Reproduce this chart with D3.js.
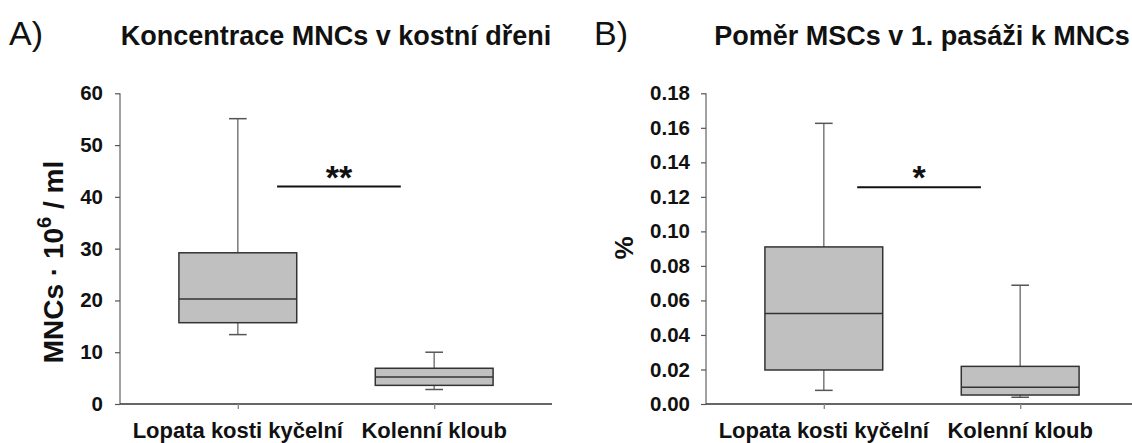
<!DOCTYPE html>
<html>
<head>
<meta charset="utf-8">
<script src="https://cdn.jsdelivr.net/npm/d3@7"></script>
<style>
  html, body { margin: 0; padding: 0; background: #fff; }
  svg { display: block; font-family: "Liberation Sans", Arial, sans-serif; }
</style>
</head>
<body>
<svg id="chart" width="1132" height="443"></svg>
<script>
// Categories shared by both panels
const categories = ["Lopata kosti kyčelní", "Kolenní kloub"];

// Panel A: MNC concentration (10^6 / ml) — whisker low, Q1, median, Q3, whisker high
const mncLow    = [13.4, 2.8];
const mncQ1     = [15.7, 3.6];
const mncMedian = [20.3, 5.2];
const mncQ3     = [29.2, 6.9];
const mncHigh   = [55.1, 10.0];
const mncTicks  = [0, 10, 20, 30, 40, 50, 60];

// Panel B: MSC / MNC ratio in passage 1 (%)
const mscLow    = [0.0079, 0.0039];
const mscQ1     = [0.0197, 0.0052];
const mscMedian = [0.0525, 0.0097];
const mscQ3     = [0.0910, 0.0218];
const mscHigh   = [0.1626, 0.0688];
const mscTicks  = [0, 0.02, 0.04, 0.06, 0.08, 0.10, 0.12, 0.14, 0.16, 0.18];

// Significance markers between the two groups
const mncSig = { label: "**", level: 42.0, from: 1.2, to: 1.83 };
const mscSig = { label: "*", level: 0.1255, from: 1.17, to: 1.80 };

const svg = d3.select("#chart");

const FILL = "#c0c0c0";
const BOX_STROKE = "#333";
const WHISKER = "#7a7a7a";

function panel(opts) {
  const g = svg.append("g");
  const x = d3.scaleLinear().domain([0.4, 2.6]).range([opts.left, opts.left + 432]);
  const y = d3.scaleLinear().domain(opts.domain).range([404, 93.3]);

  // panel letter and title
  g.append("text")
    .attr("x", opts.letterX).attr("y", 45)
    .attr("font-size", 34).attr("fill", "#111")
    .text(opts.letter);
  g.append("text")
    .attr("x", opts.left + 216).attr("y", 45)
    .attr("text-anchor", "middle")
    .attr("font-size", 27).attr("font-weight", "bold").attr("fill", "#111")
    .text(opts.title);

  // y axis
  const yAxis = d3.axisLeft(y).tickValues(opts.ticks).tickSize(5).tickPadding(opts.pad)
    .tickFormat(opts.format);
  const ya = g.append("g").attr("transform", `translate(${opts.left},0)`).call(yAxis);
  ya.select(".domain").attr("stroke", "#8a8a8a").attr("stroke-width", 1.6)
    .attr("d", `M0,${y.range()[0]}V${y.range()[1]}`);
  ya.selectAll(".tick line").attr("stroke", "#555").attr("stroke-width", 1.2);
  ya.selectAll(".tick text")
    .attr("font-size", 20.5).attr("font-weight", "bold").attr("fill", "#111")
    .attr("font-family", "Liberation Sans, Arial, sans-serif");

  // x axis
  const xAxis = d3.axisBottom(x).tickValues([1, 2]).tickSize(5).tickFormat("");
  const xa = g.append("g").attr("transform", "translate(0,404)").call(xAxis);
  xa.select(".domain").attr("stroke", "#333").attr("stroke-width", 1.6)
    .attr("d", `M${x.range()[0]},0H${x.range()[1]}`);
  xa.selectAll(".tick line").attr("stroke", "#8a8a8a").attr("stroke-width", 1.4);

  // category labels
  g.selectAll(".cat").data(categories).join("text")
    .attr("x", (d, i) => x(i + 1)).attr("y", 438)
    .attr("text-anchor", "middle")
    .attr("font-size", 22).attr("font-weight", "bold").attr("fill", "#111")
    .text(d => d);

  // box plots
  const boxes = categories.map((c, i) => ({
    pos: i + 1, low: opts.low[i], q1: opts.q1[i], med: opts.med[i], q3: opts.q3[i], high: opts.high[i]
  }));
  const bw = 0.6, cw = 0.09;
  const bg = g.selectAll(".box").data(boxes).join("g");
  // whiskers
  bg.append("line")
    .attr("x1", d => x(d.pos)).attr("x2", d => x(d.pos))
    .attr("y1", d => y(d.q3)).attr("y2", d => y(d.high))
    .attr("stroke", WHISKER).attr("stroke-width", 1.5);
  bg.append("line")
    .attr("x1", d => x(d.pos)).attr("x2", d => x(d.pos))
    .attr("y1", d => y(d.q1)).attr("y2", d => y(d.low))
    .attr("stroke", WHISKER).attr("stroke-width", 1.5);
  // caps
  bg.append("line")
    .attr("x1", d => x(d.pos - cw / 2)).attr("x2", d => x(d.pos + cw / 2))
    .attr("y1", d => y(d.high)).attr("y2", d => y(d.high))
    .attr("stroke", "#555").attr("stroke-width", 1.5);
  bg.append("line")
    .attr("x1", d => x(d.pos - cw / 2)).attr("x2", d => x(d.pos + cw / 2))
    .attr("y1", d => y(d.low)).attr("y2", d => y(d.low))
    .attr("stroke", "#555").attr("stroke-width", 1.5);
  // box
  bg.append("rect")
    .attr("x", d => x(d.pos - bw / 2)).attr("width", d => x(d.pos + bw / 2) - x(d.pos - bw / 2))
    .attr("y", d => y(d.q3)).attr("height", d => y(d.q1) - y(d.q3))
    .attr("fill", FILL).attr("stroke", BOX_STROKE).attr("stroke-width", 1.5);
  // median
  bg.append("line")
    .attr("x1", d => x(d.pos - bw / 2)).attr("x2", d => x(d.pos + bw / 2))
    .attr("y1", d => y(d.med)).attr("y2", d => y(d.med))
    .attr("stroke", BOX_STROKE).attr("stroke-width", 1.5);

  // significance bar
  const s = opts.sig;
  g.append("line")
    .attr("x1", x(s.from)).attr("x2", x(s.to))
    .attr("y1", y(s.level)).attr("y2", y(s.level))
    .attr("stroke", "#111").attr("stroke-width", 2);
  g.append("text")
    .attr("x", x((s.from + s.to) / 2)).attr("y", y(s.level) + 2)
    .attr("text-anchor", "middle")
    .attr("font-size", 34).attr("font-weight", "bold").attr("fill", "#111")
    .text(s.label);

  return g;
}

const gA = panel({
  left: 120, letter: "A)", letterX: 9,
  title: "Koncentrace MNCs v kostní dřeni",
  domain: [0, 60], ticks: mncTicks, format: d3.format("d"), pad: 12,
  low: mncLow, q1: mncQ1, med: mncMedian, q3: mncQ3, high: mncHigh, sig: mncSig
});

const gB = panel({
  left: 706, letter: "B)", letterX: 594,
  title: "Poměr MSCs v 1. pasáži k MNCs",
  domain: [0, 0.18], ticks: mscTicks, format: d3.format(".2f"), pad: 11,
  low: mscLow, q1: mscQ1, med: mscMedian, q3: mscQ3, high: mscHigh, sig: mscSig
});

// y axis titles
const tA = gA.append("text")
  .attr("transform", "translate(63,262) rotate(-90)")
  .attr("text-anchor", "middle")
  .attr("font-size", 28).attr("font-weight", "bold").attr("fill", "#111");
tA.append("tspan").text("MNCs · 10");
tA.append("tspan").attr("font-size", 20).attr("dy", -12).text("6");
tA.append("tspan").attr("dy", 12).text(" / ml");

gB.append("text")
  .attr("transform", "translate(633,248) rotate(-90)")
  .attr("text-anchor", "middle")
  .attr("font-size", 26).attr("font-weight", "bold").attr("fill", "#111")
  .text("%");
</script>
</body>
</html>
